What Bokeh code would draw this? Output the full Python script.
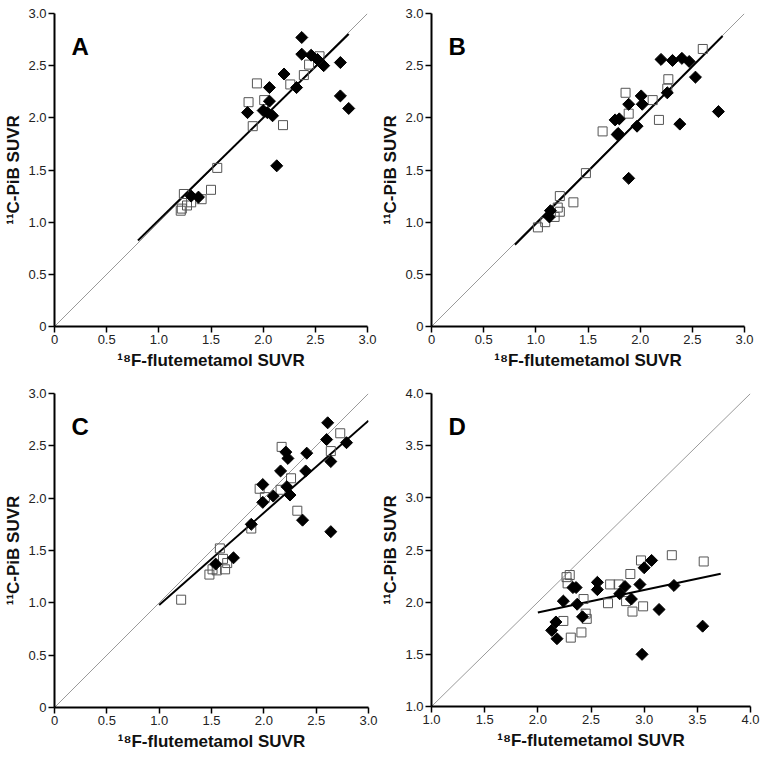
from bokeh.plotting import figure
from bokeh.layouts import gridplot
from bokeh.models import FixedTicker, Range1d, Label, NumeralTickFormatter
from bokeh.embed import file_html
from bokeh.resources import INLINE
import math

# ---------------- data ----------------
a_dia_x = [2.37, 2.37, 2.46, 2.52, 2.58, 2.74, 2.74, 2.82, 2.20, 2.32, 2.06, 2.06, 1.85, 2.00, 2.04, 2.09, 2.13, 1.31, 1.38]
a_dia_y = [2.77, 2.61, 2.60, 2.56, 2.50, 2.53, 2.21, 2.09, 2.42, 2.29, 2.29, 2.16, 2.05, 2.07, 2.05, 2.02, 1.54, 1.25, 1.24]
a_sq_x = [2.54, 2.44, 2.39, 2.26, 1.94, 1.86, 2.01, 1.90, 2.19, 1.56, 1.50, 1.24, 1.41, 1.31, 1.27, 1.22, 1.21]
a_sq_y = [2.59, 2.51, 2.41, 2.32, 2.33, 2.15, 2.17, 1.92, 1.93, 1.52, 1.31, 1.27, 1.22, 1.19, 1.16, 1.13, 1.11]
a_fit = [0.98, 0.04]      # slope, intercept
a_fit_x = [0.80, 2.82]

b_dia_x = [2.20, 2.31, 2.40, 2.47, 2.53, 2.26, 2.75, 2.38, 2.01, 2.02, 1.89, 1.80, 1.76, 1.79, 1.78, 1.97, 1.89, 1.14, 1.13]
b_dia_y = [2.56, 2.55, 2.57, 2.54, 2.39, 2.24, 2.06, 1.94, 2.21, 2.13, 2.13, 1.99, 1.98, 1.85, 1.84, 1.92, 1.42, 1.11, 1.05]
b_sq_x = [2.60, 2.27, 2.26, 2.12, 1.86, 1.89, 2.18, 1.64, 1.48, 1.23, 1.36, 1.21, 1.23, 1.18, 1.09, 1.02]
b_sq_y = [2.66, 2.37, 2.28, 2.17, 2.24, 2.04, 1.98, 1.87, 1.47, 1.25, 1.19, 1.14, 1.10, 1.05, 1.00, 0.95]
b_fit = [1.005, -0.02]
b_fit_x = [0.80, 2.79]

c_dia_x = [2.61, 2.60, 2.79, 2.64, 2.41, 2.21, 2.23, 2.16, 2.40, 1.99, 2.22, 2.25, 2.09, 1.99, 2.37, 2.64, 1.88, 1.71, 1.54]
c_dia_y = [2.72, 2.56, 2.53, 2.35, 2.43, 2.44, 2.38, 2.26, 2.26, 2.13, 2.11, 2.03, 2.02, 1.96, 1.79, 1.68, 1.75, 1.43, 1.37]
c_sq_x = [2.73, 2.64, 2.17, 2.26, 1.96, 2.16, 2.01, 2.32, 1.88, 1.58, 1.61, 1.65, 1.63, 1.51, 1.55, 1.48, 1.21]
c_sq_y = [2.62, 2.45, 2.49, 2.19, 2.09, 2.08, 2.01, 1.88, 1.71, 1.52, 1.42, 1.38, 1.32, 1.32, 1.31, 1.27, 1.03]
c_fit = [0.88, 0.10]
c_fit_x = [1.00, 3.00]

d_dia_x = [3.07, 3.00, 3.28, 2.96, 2.82, 2.77, 2.88, 2.56, 2.56, 2.33, 2.36, 2.24, 2.37, 2.42, 2.17, 2.13, 2.18, 3.14, 3.55, 2.98]
d_dia_y = [2.40, 2.33, 2.16, 2.17, 2.15, 2.08, 2.03, 2.19, 2.12, 2.14, 2.14, 2.01, 1.98, 1.86, 1.81, 1.73, 1.65, 1.93, 1.77, 1.50]
d_sq_x = [2.30, 2.27, 2.28, 2.97, 3.26, 3.56, 2.87, 2.68, 2.76, 2.43, 2.66, 2.83, 2.99, 2.89, 2.45, 2.46, 2.24, 2.41, 2.31]
d_sq_y = [2.26, 2.24, 2.18, 2.40, 2.45, 2.39, 2.27, 2.17, 2.17, 2.03, 1.99, 2.01, 1.96, 1.91, 1.89, 1.84, 1.82, 1.71, 1.66]
d_fit = [0.216, 1.468]
d_fit_x = [2.00, 3.72]

ticks_abc = [0, 0.5, 1.0, 1.5, 2.0, 2.5, 3.0]
ticks_d = [1.0, 1.5, 2.0, 2.5, 3.0, 3.5, 4.0]

X_TITLE = "¹⁸F-flutemetamol SUVR"
Y_TITLE = "¹¹C-PiB SUVR"

FONT = "Liberation Sans"


def panel(letter, dx, dy, sx, sy, fit, fit_x, ticks, fw, fh, bl, br, bt, bb, letter_pos):
    lo, hi = ticks[0], ticks[-1]
    p = figure(width=bl + fw + br, height=bt + fh + bb,
               x_range=Range1d(lo, hi), y_range=Range1d(lo, hi),
               output_backend="svg", toolbar_location=None,
               min_border_left=bl, min_border_right=br,
               min_border_top=bt, min_border_bottom=bb)
    p.frame_width = fw
    p.frame_height = fh
    p.outline_line_color = None
    p.xgrid.visible = False
    p.ygrid.visible = False
    p.background_fill_color = "white"
    p.border_fill_color = "white"

    for ax, title in ((p.xaxis[0], X_TITLE), (p.yaxis[0], Y_TITLE)):
        ax.ticker = FixedTicker(ticks=ticks)
        ax.formatter = NumeralTickFormatter(format="0.0")
        if lo == 0:
            ax.major_label_overrides = {0: "0"}
        ax.minor_tick_line_color = None
        ax.axis_line_color = "black"
        ax.axis_line_width = 2
        ax.major_tick_line_color = "black"
        ax.major_tick_line_width = 1.5
        ax.major_tick_in = 0
        ax.major_tick_out = 6
        ax.major_label_text_font = FONT
        ax.major_label_text_font_size = "13px"
        ax.major_label_text_color = "#222222"
        ax.major_label_standoff = 2
        ax.axis_label = title
        ax.axis_label_text_font = FONT
        ax.axis_label_text_font_style = "bold"
        ax.axis_label_text_font_size = "17px"
        ax.axis_label_text_color = "#111111"
        ax.axis_label_standoff = 4
    p.yaxis[0].axis_label_standoff = 2

    # identity line
    p.line([lo, hi], [lo, hi], line_color="#9a9a9a", line_width=1)
    # regression line
    fy = [fit[0] * v + fit[1] for v in fit_x]
    p.line(fit_x, fy, line_color="black", line_width=2)
    # open squares
    p.scatter(sx, sy, marker="square", size=9, fill_color=None,
              line_color="#555555", line_width=1)
    # filled diamonds
    p.scatter(dx, dy, marker="square", size=8.5, angle=math.pi / 4,
              fill_color="black", line_color="black", line_width=1)

    p.add_layout(Label(x=letter_pos[0], y=letter_pos[1], text=letter,
                       x_units="screen", y_units="screen",
                       text_font=FONT, text_font_style="bold",
                       text_font_size="24px", text_color="black",
                       text_align="left", text_baseline="top"))
    return p


pA = panel("A", a_dia_x, a_dia_y, a_sq_x, a_sq_y, a_fit, a_fit_x, ticks_abc,
           313, 313, 53, 11, 13, 54, (17, 294))
pB = panel("B", b_dia_x, b_dia_y, b_sq_x, b_sq_y, b_fit, b_fit_x, ticks_abc,
           313, 313, 53, 13, 13, 54, (17, 294))
pC = panel("C", c_dia_x, c_dia_y, c_sq_x, c_sq_y, c_fit, c_fit_x, ticks_abc,
           314, 314, 54, 10, 13, 40, (17, 295))
pD = panel("D", d_dia_x, d_dia_y, d_sq_x, d_sq_y, d_fit, d_fit_x, ticks_d,
           319, 313, 53, 10, 13, 41, (17, 294))

grid = gridplot([[pA, pB], [pC, pD]], toolbar_location=None)

open("out.html", "w").write(file_html(grid, INLINE))
